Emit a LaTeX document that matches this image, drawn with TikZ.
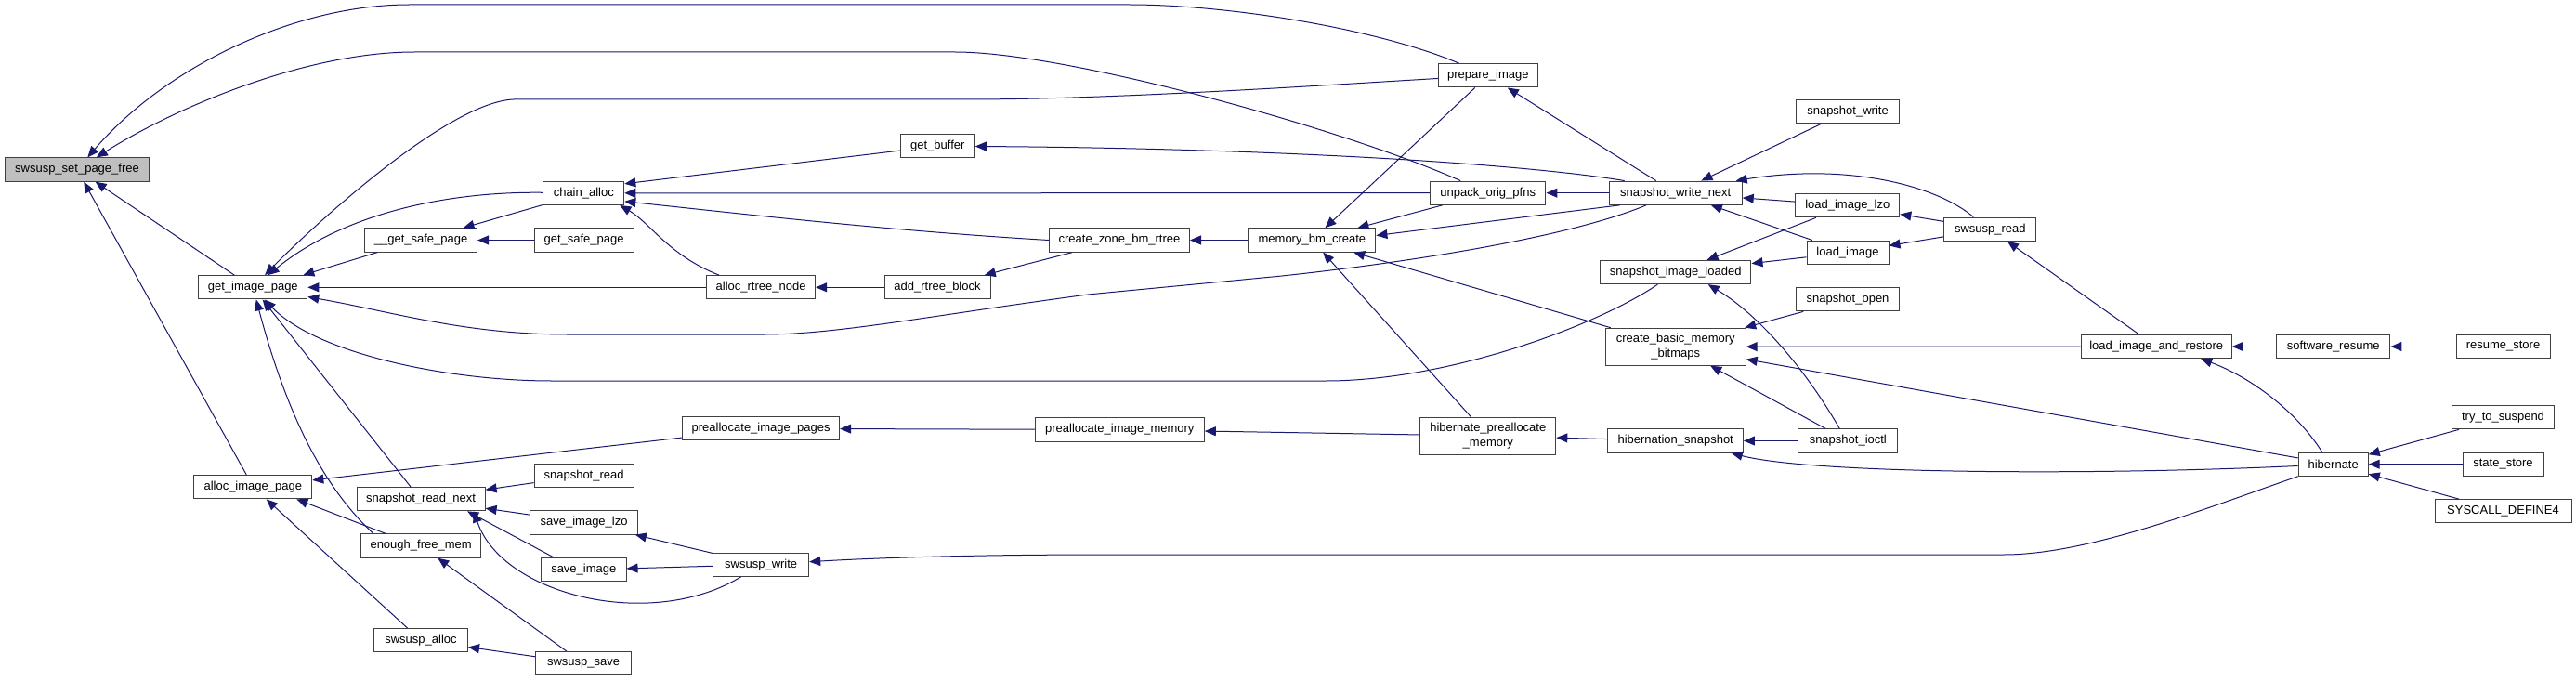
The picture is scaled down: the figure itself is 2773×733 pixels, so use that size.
\documentclass[tikz,border=0pt]{standalone}
\usepackage{fontspec}
\setmainfont{Liberation Sans}
\usepackage{xcolor}
\usepackage{tikz}
\usetikzlibrary{arrows.meta}

\definecolor{edgeblue}{HTML}{191970}

\begin{document}
\begin{tikzpicture}[
    x=1pt, y=-1pt,
    >={Triangle[length=12pt, width=10pt]},
    fn/.style={draw=black!75, line width=1pt, fill=white, minimum height=25.3, inner xsep=2, inner ysep=0, align=center, font=\fontsize{13}{15.5}\selectfont},
    rootfn/.style={fn, fill=black!25},
    tallfn/.style={fn, minimum height=40},
    call/.style={->, draw=edgeblue, line width=1pt},
]
    \fill[white] (0,0) rectangle (2773,733);
    \useasboundingbox (0,0) rectangle (2773,733);

    % 1. Root
    \node[rootfn, minimum width=155] (set_free) at (83,182.5) {swsusp\_set\_page\_free};

    % 2. First callers
    \node[fn, minimum width=117] (get_img) at (272.3,309.3) {get\_image\_page};
    \node[fn, minimum width=127] (alloc_img) at (272.3,524.2) {alloc\_image\_page};

    % 3. Column of __get_safe_page
    \node[fn, minimum width=121] (get_safe_u) at (453.1,258.5) {\_\_get\_safe\_page};
    \node[fn, minimum width=138] (rd_next) at (453.1,537.2) {snapshot\_read\_next};
    \node[fn, minimum width=129.5] (enough) at (453.1,587.5) {enough\_free\_mem};
    \node[fn, minimum width=101] (sw_alloc) at (453,689.2) {swsusp\_alloc};

    % 4. Column of chain_alloc
    \node[fn, minimum width=87] (chain) at (628.3,207.8) {chain\_alloc};
    \node[fn, minimum width=107] (get_safe) at (628.6,258.5) {get\_safe\_page};
    \node[fn, minimum width=107] (snap_read) at (628.6,511.8) {snapshot\_read};
    \node[fn, minimum width=116] (save_lzo) at (628.6,562.5) {save\_image\_lzo};
    \node[fn, minimum width=91.5] (save_img) at (628.3,613.2) {save\_image};
    \node[fn, minimum width=103] (sw_save) at (628.1,714.2) {swsusp\_save};

    % 5. Column of alloc_rtree_node
    \node[fn, minimum width=117] (rtree_node) at (819.1,309.3) {alloc\_rtree\_node};
    \node[fn, minimum width=169] (prealloc_pages) at (819.1,461.3) {preallocate\_image\_pages};
    \node[fn, minimum width=103] (sw_write) at (819.2,607.8) {swsusp\_write};

    % 6. Column of get_buffer
    \node[fn, minimum width=80] (get_buf) at (1009.3,157.2) {get\_buffer};
    \node[fn, minimum width=114] (add_block) at (1009,309.3) {add\_rtree\_block};

    % 7. Column of create_zone_bm_rtree
    \node[fn, minimum width=151] (zone_rtree) at (1205,258.5) {create\_zone\_bm\_rtree};
    \node[fn, minimum width=182] (prealloc_mem) at (1205.3,462.5) {preallocate\_image\_memory};

    % 8. memory_bm_create
    \node[fn, minimum width=137] (mbm_create) at (1412.4,258.5) {memory\_bm\_create};

    % 9. Column of prepare_image
    \node[fn, minimum width=107] (prep_img) at (1601.8,81.3) {prepare\_image};
    \node[fn, minimum width=124.5] (unpack) at (1601.7,207.7) {unpack\_orig\_pfns};
    \node[tallfn, minimum width=146] (hib_prealloc) at (1601.8,469.2) {hibernate\_preallocate\\\_memory};

    % 10. Column of snapshot_write_next
    \node[fn, minimum width=143] (wr_next) at (1803.7,207.7) {snapshot\_write\_next};
    \node[fn, minimum width=162.5] (img_loaded) at (1803.7,293) {snapshot\_image\_loaded};
    \node[tallfn, minimum width=151] (basic_bm) at (1803.7,373.2) {create\_basic\_memory\\\_bitmaps};
    \node[fn, minimum width=145.5] (hib_snap) at (1803.7,474.5) {hibernation\_snapshot};

    % 11. Column of snapshot_write
    \node[fn, minimum width=111] (snap_write) at (1989,119.8) {snapshot\_write};
    \node[fn, minimum width=112] (load_lzo) at (1988.8,221.2) {load\_image\_lzo};
    \node[fn, minimum width=88] (load_img) at (1989,271.7) {load\_image};
    \node[fn, minimum width=111] (snap_open) at (1989,322.2) {snapshot\_open};
    \node[fn, minimum width=107] (snap_ioctl) at (1989.3,474.5) {snapshot\_ioctl};

    % 12. Right end
    \node[fn, minimum width=99] (sw_read) at (2142.3,246.7) {swsusp\_read};
    \node[fn, minimum width=162] (load_restore) at (2321.2,373) {load\_image\_and\_restore};
    \node[fn, minimum width=122.5] (sw_resume) at (2511.7,373) {software\_resume};
    \node[fn, minimum width=75] (hibernate) at (2511.7,499.7) {hibernate};
    \node[fn, minimum width=101] (resume_store) at (2694.5,373) {resume\_store};
    \node[fn, minimum width=110] (try_susp) at (2694.5,449.2) {try\_to\_suspend};
    \node[fn, minimum width=87] (state_store) at (2694.5,499.7) {state\_store};
    \node[fn, minimum width=147] (sys_def4) at (2694.5,550.3) {SYSCALL\_DEFINE4};

    % --- Connections ---

    % into swsusp_set_page_free
    \draw[call] (prep_img) .. controls (1480,30) and (1320,5) .. (1216,5) -- (440,5) .. controls (320,5) and (180,70) .. (set_free);
    \draw[call] (unpack) .. controls (1450,140) and (1150,56) .. (1028,56) -- (446,56) .. controls (330,56) and (190,115) .. (set_free);
    \draw[call] ([xshift=-20]get_img.north) -- (set_free);
    \draw[call] ([xshift=-7]alloc_img.north) -- (set_free);

    % into get_image_page
    \draw[call] (prep_img) .. controls (1420,92) and (1200,107) .. (1040,107) -- (553,107) .. controls (480,110) and (330,250) .. (get_img);
    \draw[call] (chain) .. controls (480,206) and (370,230) .. (get_img);
    \draw[call] ([xshift=14]get_safe_u.south west) -- ([xshift=-5]get_img.north east);
    \draw[call] (rtree_node) -- (get_img);
    \draw[call] (wr_next) .. controls (1690,255) and (1520,282) .. (1380,297) -- (1171,317) .. controls (1000,340) and (900,360) .. (823,360) -- (611,360) .. controls (500,360) and (420,335) .. (get_img);
    \draw[call] (img_loaded) .. controls (1720,350) and (1560,410) .. (1427,410) -- (594,410) .. controls (480,410) and (340,380) .. (get_img);
    \draw[call] ([xshift=14]enough.north west) .. controls (360,535) and (315,470) .. (get_img);
    \draw[call] ([xshift=-11]rd_next.north) -- (get_img);

    % into alloc_image_page
    \draw[call] (prealloc_pages) -- (alloc_img);
    \draw[call] ([xshift=-38]enough.north) -- ([xshift=47]alloc_img.south);
    \draw[call] (sw_alloc) -- (alloc_img);

    % into snapshot_read_next and its neighbours
    \draw[call] (snap_read) -- (rd_next);
    \draw[call] (save_lzo) -- (rd_next);
    \draw[call] ([xshift=-32]save_img.north) -- ([xshift=50]rd_next.south);
    \draw[call] (sw_write) .. controls (700,680) and (540,640) .. ([xshift=57]rd_next.south);
    \draw[call] (sw_write) -- (save_lzo);
    \draw[call] (sw_write) -- (save_img);
    \draw[call] (sw_save) -- (enough);
    \draw[call] (sw_save) -- (sw_alloc);

    % into chain_alloc
    \draw[call] (get_buf) -- ([yshift=10]chain.east);
    \draw[call] (unpack) -- (chain);
    \draw[call] (zone_rtree.west) .. controls (950,248) and (780,228) .. ([yshift=-9]chain.east);
    \draw[call] ([xshift=-45]rtree_node.north) .. controls (720,275) and (700,240) .. ([xshift=-5]chain.south east);
    \draw[call] (chain) -- (get_safe_u);
    \draw[call] (get_safe) -- (get_safe_u);

    % memory bitmap part
    \draw[call] ([xshift=-55]wr_next.north) .. controls (1650,178) and (1400,160) .. (get_buf);
    \draw[call] (wr_next) -- (prep_img);
    \draw[call] (prep_img) -- (mbm_create);
    \draw[call] (wr_next) -- (unpack);
    \draw[call] (unpack) -- (mbm_create);
    \draw[call] ([xshift=-60]wr_next.south) -- ([yshift=5]mbm_create.east);
    \draw[call] (basic_bm) -- (mbm_create);
    \draw[call] (hib_prealloc) -- (mbm_create);
    \draw[call] (mbm_create) -- (zone_rtree);
    \draw[call] (zone_rtree) -- (add_block);
    \draw[call] (add_block) -- (rtree_node);

    % snapshot device and restore
    \draw[call] (snap_write) -- (wr_next);
    \draw[call] ([xshift=-18]sw_read.north) .. controls (2085,200) and (1990,175) .. ([xshift=65]wr_next.north);
    \draw[call] (load_lzo) -- (wr_next);
    \draw[call] (load_img) -- (wr_next);
    \draw[call] (load_lzo) -- (img_loaded);
    \draw[call] (load_img) -- (img_loaded);
    \draw[call] ([xshift=-9]snap_ioctl.north) .. controls (1945,400) and (1895,340) .. ([xshift=35]img_loaded.south);
    \draw[call] (sw_read) -- (load_lzo);
    \draw[call] (sw_read) -- (load_img);
    \draw[call] (load_restore) -- (sw_read);
    \draw[call] (snap_open) -- (basic_bm);
    \draw[call] (load_restore) -- (basic_bm);
    \draw[call] (snap_ioctl) -- (basic_bm);
    \draw[call] (hibernate) -- (basic_bm);

    % preallocation chain
    \draw[call] (prealloc_mem) -- (prealloc_pages);
    \draw[call] (hib_prealloc) -- (prealloc_mem);
    \draw[call] (hib_snap) -- (hib_prealloc);
    \draw[call] (snap_ioctl) -- (hib_snap);
    \draw[call] (hibernate) .. controls (2250,512) and (1950,510) .. ([xshift=60]hib_snap.south);
    \draw[call] (hibernate) .. controls (2380,545) and (2250,597) .. (2157,597) -- (1193,597) .. controls (1000,597) and (900,603) .. (sw_write);

    % entry points
    \draw[call] (sw_resume) -- (load_restore);
    \draw[call] (resume_store) -- (sw_resume);
    \draw[call] ([xshift=-12]hibernate.north) .. controls (2470,440) and (2420,405) .. ([xshift=48]load_restore.south);
    \draw[call] (try_susp) -- (hibernate);
    \draw[call] (state_store) -- (hibernate);
    \draw[call] (sys_def4) -- (hibernate);

\end{tikzpicture}
\end{document}
